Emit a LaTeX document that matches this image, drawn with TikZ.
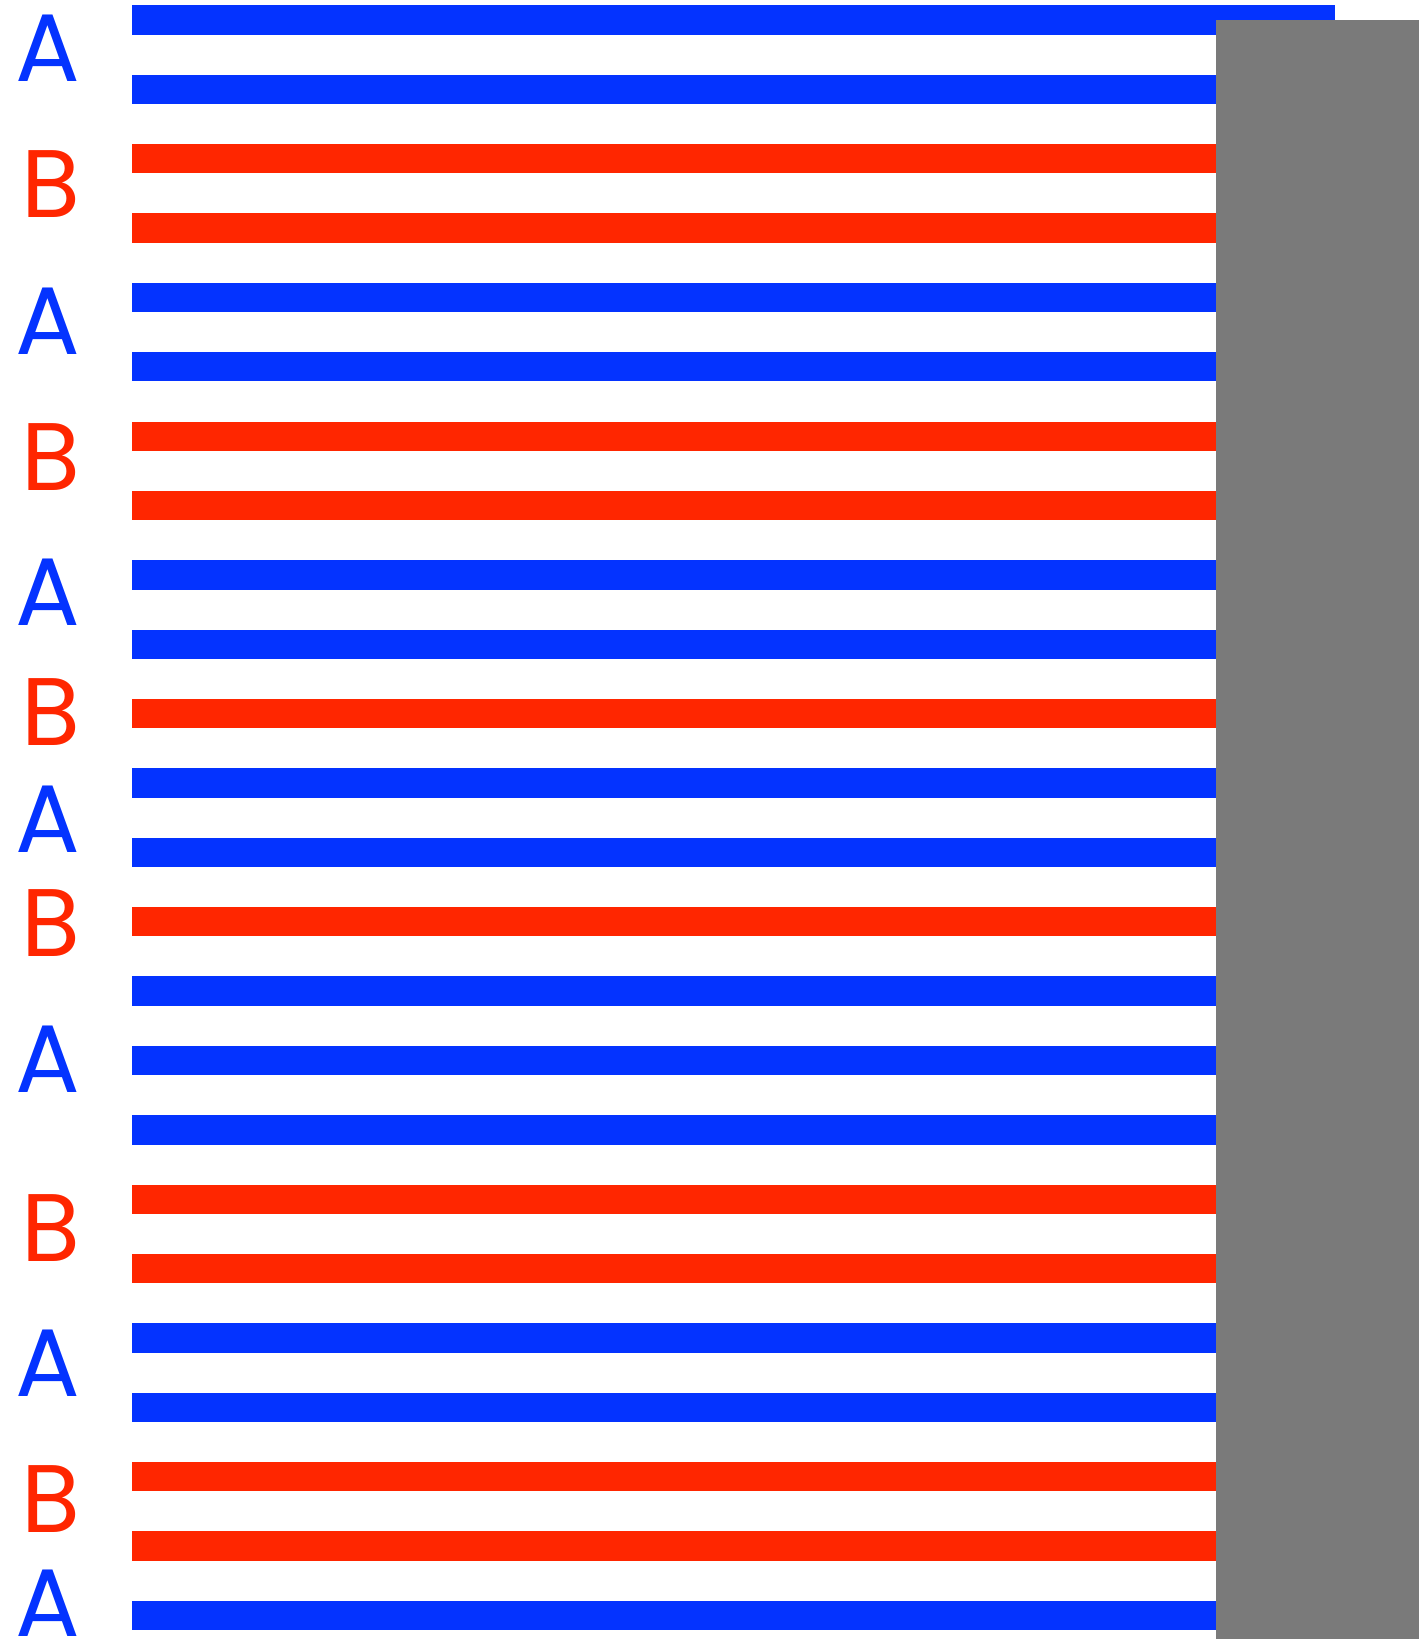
\documentclass[tikz,border=0pt]{standalone}
\usepackage{fontspec}
\setmainfont{Poppins}
\definecolor{cblue}{HTML}{0433FF}
\definecolor{cred}{HTML}{FF2600}
\definecolor{cgray}{HTML}{7A7A7A}
\begin{document}
\begin{tikzpicture}[x=1pt,y=-1pt,
  lbl/.style={anchor=base,inner sep=0pt,font=\fontsize{96}{96}\selectfont},
  la/.style={lbl,text=cblue},
  lb/.style={lbl,text=cred}]
\useasboundingbox (0,0) rectangle (1419,1639);
\fill[white] (0,0) rectangle (1419,1639);
% stripes
\foreach \c [count=\n from 0] in {cblue,cblue,cred,cred,cblue,cblue,cred,cred,cblue,cblue,cred,cblue,cblue,cred,cblue,cblue,cblue,cred,cred,cblue,cblue,cred,cred,cblue}{
  \pgfmathsetmacro{\t}{5.3+\n*69.37}
  \pgfmathsetmacro{\xe}{ifthenelse(\n==0,1335,1216)}
  \fill[\c] (131.7,\t) rectangle (\xe,\t+29.3);
}
% gray panel
\fill[cgray] (1215.7,20) rectangle (1419,1639);
% labels
\node[la] (a1) at (48,81.7) {A};
\node[lb] (b1) at (50.7,217.3) {B};
\node[la] (a2) at (47.7,354) {A};
\node[lb] (b2) at (50.7,490) {B};
\node[la] (a3) at (47.7,625.7) {A};
\node[lb] (b3) at (50.7,745.7) {B};
\node[la] (a4) at (47.7,852.3) {A};
\node[lb] (b4) at (50.7,956) {B};
\node[la] (a5) at (47.7,1092.7) {A};
\node[lb] (b5) at (50.7,1261) {B};
\node[la] (a6) at (47.7,1396.7) {A};
\node[lb] (b6) at (50.7,1532.7) {B};
\node[la] (a7) at (47.7,1636) {A};
\end{tikzpicture}
\end{document}
